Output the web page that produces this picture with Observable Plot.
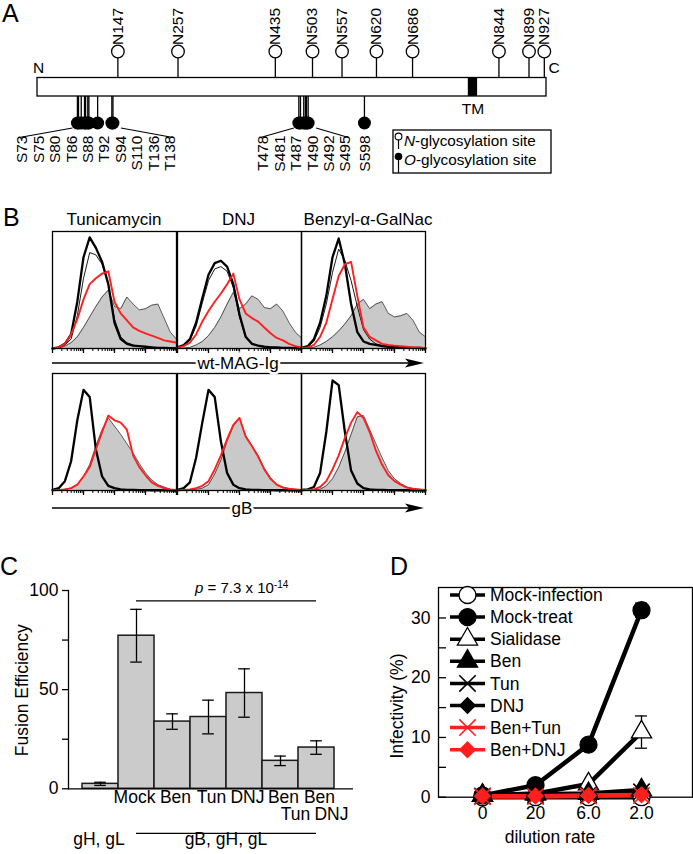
<!DOCTYPE html>
<html>
<head>
<meta charset="utf-8">
<script src="https://cdn.jsdelivr.net/npm/d3@7"></script>
<script src="https://cdn.jsdelivr.net/npm/@observablehq/plot@0.6"></script>
<style>
html,body{margin:0;padding:0;background:#fff;}
#fig{position:relative;width:693px;height:854px;overflow:hidden;background:#fff;}
</style>
</head>
<body>
<div id="fig"></div>
<script>
// ================= DATA =================
// Panel A : MAG-binding glycoprotein B, residue positions
const proteinLength = 931;
const tmSpan = [788, 805];
const nGlycoSites = [147, 257, 435, 503, 557, 620, 686, 844, 899, 927];
const oGlycoCluster1 = ["S73","S75","S80","T86","S88","T92","S94","S110","T136","T138"];
const oGlycoCluster2 = ["T478","S481","T487","T490","S492","S495"];
const oGlycoSingle = ["S598"];

// Panel B : flow cytometry histograms (log10 fluorescence grid, % of panel height)
const bColumns = ["Tunicamycin", "DNJ", "Benzyl-\u03b1-GalNac"];
const bRowLabels = ["wt-MAG-Ig", "gB"];
const histLogX = [0,0.2,0.4,0.6,0.8,1.0,1.2,1.4,1.6,1.8,2.0,2.2,2.4,2.6,2.8,3.0,3.2,3.4,3.6,3.8,4.0];
const tunMagGray  = [0,0.5,2,5,10,18,27,36,44,50,36,34,44,38,33,34,37,38,26,14,8];
const tunMagThin  = [0,1,3,8,28,60,82,80,72,55,25,10,5,3,2,1.5,1,0.5,0.5,0.3,0];
const tunMagBlack = [0,1,4,12,40,78,95,86,74,55,22,8,4,2.5,2,1.5,1,0.5,0.5,0.3,0];
const tunMagRed   = [0,1,4,12,25,42,55,60,64,66,40,30,24,18,15,13,11,9,7,6,5];
const dnjMagGray  = [0,0.5,1,3,6,11,18,27,38,48,34,38,45,42,35,34,38,32,22,14,9];
const dnjMagThin  = [1,2.5,7,19,39,58,68,70,66,52,27,9,4,2.5,1.5,1,1,0.5,0.5,0.3,0];
const dnjMagBlack = [1,3,8,22,43,63,73,75,70,55,29,10,4,2.5,1.5,1,1,0.5,0.5,0.3,0];
const dnjMagRed   = [0.5,2,5,12,23,32,40,47,55,64,42,30,26,23,18,13,9,7,4,2,1];
const benMagGray  = [0,0.5,1,3,6,10,15,21,28,38,42,34,38,40,30,27,28,30,24,14,10];
const benMagThin  = [0.5,1.5,6,18,38,65,85,75,58,36,16,8,4,2.5,2,1.5,1,1,0.5,0.5,0];
const benMagBlack = [0.5,2,8,22,45,78,94,72,38,14,6,4,3,2,1.5,1.5,1,1,0.5,0.5,0];
const benMagRed   = [0.5,1,3,10,22,42,62,72,74,45,18,10,7,4,3,2.5,2,1.5,1,1,0.5];
const tunGbGray   = [0,0.5,1,2,5,12,22,38,52,62,55,48,40,32,23,15,9,5,3,1,0.5];
const tunGbBlack  = [0.5,2,8,25,60,86,80,35,12,4,2,1,0.5,0.5,0.3,0.3,0.2,0.2,0.1,0.1,0];
const tunGbRed    = [0,0.5,1,2,5,12,20,35,50,64,60,58,52,30,20,13,7,4,2,1,0.5];
const dnjGbGray   = [0,0.3,0.5,1,2,5,14,26,42,55,62,47,38,30,19,11,5,3,1.5,1,0.5];
const dnjGbBlack  = [0.5,2,7,28,58,86,80,42,15,5,2,1,0.5,0.5,0.3,0.3,0.2,0.2,0.1,0.1,0];
const dnjGbRed    = [0,0.5,1,2,4,8,18,30,44,56,62,46,38,29,18,10,5,2.5,1.5,1,0.5];
const benGbGray   = [0,0.3,0.5,1,4,10,20,33,48,63,64,52,40,28,17,10,6,3,1.5,1,0.5];
const benGbBlack  = [0.5,1,3,15,50,94,90,50,17,6,2,1,0.5,0.5,0.3,0.3,0.2,0.2,0.1,0.1,0];
const benGbRed    = [0,0.5,1,3,8,18,30,45,58,67,62,50,34,22,13,8,5,2.5,1.5,1,0.5];

// Panel C : fusion efficiency
const fusionCats    = ["gH, gL","Mock","Ben","Tun","DNJ","Ben+Tun","Ben+DNJ"];
const fusionLabels1 = ["","Mock","Ben","Tun","DNJ","Ben","Ben"];
const fusionLabels2 = ["","","","","","Tun","DNJ"];
const fusionMeans   = [2.5, 77.2, 33.9, 36.2, 48.3, 14.1, 20.8];
const fusionErrs    = [0.8, 13.3, 3.9, 8.5, 12.2, 2.4, 3.4];
const fusionYTicks  = [0, 25, 50, 75, 100];
const fusionYLabels = ["0", "", "50", "", "100"];
const fusionGroups  = ["gH, gL", "gB, gH, gL"];
const pValue = {mantissa: "7.3", exponent: "-14"};

// Panel D : infectivity
const dilutions = ["0", "20", "6.0", "2.0"];
const infSeries = ["Mock-infection","Mock-treat","Sialidase","Ben","Tun","DNJ","Ben+Tun","Ben+DNJ"];
const mockInfection = [0, 0, 0, 0];
const mockTreat     = [0.3, 2.0, 8.8, 31.3];
const sialidase     = [0.3, 0.6, 2.2, 10.9];
const benInf        = [0.3, 0.5, 0.6, 1.2];
const tunInf        = [0.2, 0.3, 0.4, 0.9];
const dnjInf        = [0.2, 0.3, 0.4, 0.8];
const benTunInf     = [0.1, 0.1, 0.2, 0.3];
const benDnjInf     = [0.2, 0.2, 0.3, 0.4];
const mockTreatErr  = [0, 0, 0, 1.2];
const sialidaseErr  = [0, 0, 0, 2.7];
const infYTicks = [0, 5, 10, 15, 20, 25, 30];
const infYLabels = [0, 10, 20, 30];

// ================= DRAWING =================
const FONT = '"Liberation Sans", Arial, Helvetica, sans-serif';
const RED = "#ff1f1f";
const fig = document.getElementById("fig");
function put(svg, left, top) {
  svg.style.position = "absolute";
  svg.style.left = left + "px";
  svg.style.top = top + "px";
  svg.style.maxWidth = "none";
  svg.style.overflow = "visible";
  fig.appendChild(svg);
  return svg;
}
const baseStyle = fs => ({fontFamily: FONT, fontSize: fs + "px", background: "transparent", color: "#000", overflow: "visible"});

// ---------- Panel A ----------
const pxPerRes = (546 - 37) / proteinLength;
const TRACK = {nText: 44.5, nCircle: 51, nStemTop: 57.5, barTop: 77.5, barBottom: 96, oCircle: 122.5,
               oLinkTop: 127.5, oText: 135, oLinkBottom: 137, tmText: 108.5, endText: 68};
const resOf = s => +s.slice(1);
const LABEL_STEP = 16.4 / pxPerRes;
const oSites = [], oLinks = [];
for (const g of [oGlycoCluster1, oGlycoCluster2, oGlycoSingle]) {
  const first = resOf(g[0]), last = resOf(g[g.length - 1]);
  const center = (first + last) / 2 + 1 / pxPerRes;
  const half = (g.length - 1) / 2;
  g.forEach((lab, i) => oSites.push({label: lab, residue: resOf(lab), labelPos: center + (i - half) * LABEL_STEP}));
  if (g.length > 1) {
    oLinks.push({x1: center - half * LABEL_STEP - 3 / pxPerRes, y1: TRACK.oLinkBottom, x2: first - 5 / pxPerRes, y2: TRACK.oLinkTop});
    oLinks.push({x1: last + 8 / pxPerRes, y1: TRACK.oLinkTop, x2: center + half * LABEL_STEP + 3 / pxPerRes, y2: TRACK.oLinkBottom});
  }
}
const aSvg = Plot.plot({
  width: 693, height: 180, marginTop: 0, marginBottom: 0, marginLeft: 37, marginRight: 147,
  x: {domain: [0, proteinLength], axis: null},
  y: {type: "identity", axis: null},
  style: baseStyle(15.5),
  marks: [
    Plot.ruleX(nGlycoSites, {x: d => d, y1: TRACK.nStemTop, y2: TRACK.barTop, strokeWidth: 1.3}),
    Plot.dot(nGlycoSites, {x: d => d, y: TRACK.nCircle, r: 6.3, fill: "white", stroke: "black", strokeWidth: 1.3}),
    Plot.text(nGlycoSites, {x: d => d, y: TRACK.nText, text: d => "N" + d, rotate: -90, textAnchor: "start"}),
    Plot.ruleX(oSites, {x: "residue", y1: TRACK.barBottom, y2: TRACK.oCircle, strokeWidth: 1.3}),
    Plot.rect([{a: 0, b: proteinLength}], {x1: "a", x2: "b", y1: TRACK.barTop, y2: TRACK.barBottom, fill: "white", stroke: "black", strokeWidth: 1.3}),
    Plot.rect([tmSpan], {x1: d => d[0], x2: d => d[1], y1: TRACK.barTop, y2: TRACK.barBottom, fill: "black"}),
    Plot.dot(oSites, {x: "residue", y: TRACK.oCircle, r: 6.5, fill: "black"}),
    Plot.link(oLinks, {x1: "x1", y1: "y1", x2: "x2", y2: "y2", strokeWidth: 1.1}),
    Plot.text(oSites, {x: "labelPos", y: TRACK.oText, text: "label", rotate: -90, textAnchor: "end"}),
    Plot.text(["N"], {x: 0, y: TRACK.endText, text: d => d, textAnchor: "middle", dx: 1}),
    Plot.text(["C"], {x: proteinLength, y: TRACK.endText, text: d => d, textAnchor: "start", dx: 2}),
    Plot.text(["TM"], {x: (tmSpan[0] + tmSpan[1]) / 2, y: TRACK.tmText, text: d => d})
  ]
});
put(aSvg, 0, 0);

// ---------- Panel B ----------
const histMinorTicks = [1,2,3,4,5,6,7,8,9,10,20,30,40,50,60,70,80,90,100,200,300,400,500,600,700,800,900,1000,2000,3000,4000,5000,6000,7000,8000,9000,10000];
const histDecadeTicks = [1, 10, 100, 1000, 10000];
function histPlot(c, left, top) {
  const rows = arr => arr.map((v, i) => ({x: 10 ** histLogX[i], y: v}));
  const marks = [
    Plot.areaY(rows(c.gray), {x: "x", y: "y", fill: "#c9c9c9"}),
    Plot.lineY(rows(c.gray), {x: "x", y: "y", stroke: "#333", strokeWidth: 0.8})
  ];
  if (c.thin) marks.push(Plot.lineY(rows(c.thin), {x: "x", y: "y", stroke: "#000", strokeWidth: 0.9}));
  marks.push(
    Plot.lineY(rows(c.black), {x: "x", y: "y", stroke: "#000", strokeWidth: 2.3}),
    Plot.lineY(rows(c.red), {x: "x", y: "y", stroke: RED, strokeWidth: 1.9}),
    Plot.frame({stroke: "#000", strokeWidth: 1.3}),
    Plot.axisX({ticks: histMinorTicks, tickSize: 3, tickFormat: () => "", label: null, strokeWidth: 1}),
    Plot.axisX({ticks: histDecadeTicks, tickSize: 5, tickFormat: () => "", label: null, strokeWidth: 1.3})
  );
  const svg = Plot.plot({
    width: 126, height: 126, marginLeft: 1, marginRight: 1, marginTop: 1, marginBottom: 8,
    x: {type: "log", domain: [1, 1e4]}, y: {domain: [0, 100], axis: null},
    style: baseStyle(10), marks
  });
  return put(svg, left, top);
}
const bLefts = [51, 175.5, 300];
histPlot({gray: tunMagGray, thin: tunMagThin, black: tunMagBlack, red: tunMagRed}, bLefts[0], 230);
histPlot({gray: dnjMagGray, thin: dnjMagThin, black: dnjMagBlack, red: dnjMagRed}, bLefts[1], 230);
histPlot({gray: benMagGray, thin: benMagThin, black: benMagBlack, red: benMagRed}, bLefts[2], 230);
histPlot({gray: tunGbGray, black: tunGbBlack, red: tunGbRed}, bLefts[0], 372);
histPlot({gray: dnjGbGray, black: dnjGbBlack, red: dnjGbRed}, bLefts[1], 372);
histPlot({gray: benGbGray, black: benGbBlack, red: benGbRed}, bLefts[2], 372);

// ---------- Panel C ----------
const cData = fusionCats.map((c, i) => ({cat: c, mean: fusionMeans[i], err: fusionErrs[i], l1: fusionLabels1[i], l2: fusionLabels2[i]}));
const cSvg = Plot.plot({
  width: 360, height: 299, marginLeft: 68, marginRight: 7, marginTop: 35, marginBottom: 65.7,
  x: {domain: fusionCats, range: [80, 335.5], padding: 0, axis: null},
  y: {domain: [0, 100]},
  style: baseStyle(17.5),
  marks: [
    Plot.barY(cData, {x: "cat", y: "mean", fill: "#cbcbcb", stroke: "#1a1a1a", strokeWidth: 1.5}),
    Plot.ruleX(cData, {x: "cat", y1: d => d.mean - d.err, y2: d => d.mean + d.err, strokeWidth: 1.3}),
    Plot.tickY(cData, {x: "cat", y: d => d.mean + d.err, inset: 12.2, strokeWidth: 1.3}),
    Plot.tickY(cData, {x: "cat", y: d => d.mean - d.err, inset: 12.2, strokeWidth: 1.3}),
    Plot.frame({anchor: "left", strokeWidth: 1.3}),
    Plot.ruleY([0], {strokeWidth: 1.3}),
    Plot.axisY({ticks: fusionYTicks, tickSize: 6, tickPadding: 4, tickFormat: d => fusionYLabels[fusionYTicks.indexOf(d)], label: null, strokeWidth: 1.3}),
    Plot.text(cData.filter(d => d.l1 === "Mock"), {x: "cat", text: "l1", frameAnchor: "bottom", dy: 14, dx: -2}),
    Plot.text(cData.filter(d => d.l1 !== "Mock"), {x: "cat", text: "l1", frameAnchor: "bottom", dy: 14, dx: 3}),
    Plot.text(cData, {x: "cat", text: "l2", frameAnchor: "bottom", dy: 31, dx: 15})
  ]
});
put(cSvg, 0, 555);
{
  const sx = cSvg.scale("x"), sy = cSvg.scale("y");
  const xc = c => sx.apply(c) + sx.bandwidth / 2;
  const g = d3.select(cSvg).append("g").attr("font-family", FONT).attr("fill", "#000");
  const bottom = sy.apply(0);
  const xa = xc(fusionCats[1]), xb = xc(fusionCats[fusionCats.length - 1]);
  // p-value bar
  g.append("line").attr("x1", xa).attr("x2", xb).attr("y1", sy.apply(94.5)).attr("y2", sy.apply(94.5)).attr("stroke", "#000").attr("stroke-width", 1.3);
  const pt = g.append("text").attr("x", (xa + xb) / 2 - 31).attr("y", sy.apply(98.3)).attr("font-size", 15).attr("text-anchor", "start");
  pt.append("tspan").attr("font-style", "italic").text("p");
  pt.append("tspan").text(" = " + pValue.mantissa + " x 10");
  pt.append("tspan").attr("dy", -5).attr("font-size", 10).text(pValue.exponent);
  // group labels
  g.append("line").attr("x1", xa).attr("x2", xb).attr("y1", bottom + 45).attr("y2", bottom + 45).attr("stroke", "#000").attr("stroke-width", 1.2);
  g.append("text").attr("x", xc(fusionCats[0]) - 1).attr("y", bottom + 56.5).attr("text-anchor", "middle").attr("font-size", 17.5).text(fusionGroups[0]);
  g.append("text").attr("x", (sx.apply(fusionCats[1]) + sx.apply(fusionCats[6]) + sx.bandwidth) / 2).attr("y", bottom + 56.5).attr("text-anchor", "middle").attr("font-size", 17.5).text(fusionGroups[1]);
  // y title
  g.append("text").attr("transform", `translate(22,${(sy.apply(0) + sy.apply(100)) / 2 + 1}) rotate(-90)`).attr("text-anchor", "middle").attr("dy", "0.35em").attr("font-size", 17.5).text("Fusion Efficiency");
}

// ---------- Panel D ----------
const infValues = [mockInfection, mockTreat, sialidase, benInf, tunInf, dnjInf, benTunInf, benDnjInf];
const dStyles = {
  "Mock-infection": {symbol: "circle",   fill: "#fff", stroke: "#000", r: 8.5, line: "#000"},
  "Mock-treat":     {symbol: "circle",   fill: "#000", stroke: "#000", r: 8.5, line: "#000"},
  "Sialidase":      {symbol: "triangle", fill: "#fff", stroke: "#000", r: 7.5, line: "#000"},
  "Ben":            {symbol: "triangle", fill: "#000", stroke: "#000", r: 7.5, line: "#000"},
  "Tun":            {symbol: "times",    fill: "none", stroke: "#000", r: 7.5, line: "#000"},
  "DNJ":            {symbol: "diamond2", fill: "#000", stroke: "#000", r: 7,   line: "#000"},
  "Ben+Tun":        {symbol: "times",    fill: "none", stroke: RED,    r: 7.5, line: RED},
  "Ben+DNJ":        {symbol: "diamond2", fill: RED,    stroke: RED,    r: 7,   line: RED}
};
const dRows = infSeries.flatMap((s, si) => dilutions.map((d, i) => ({series: s, dil: d, v: infValues[si][i]})));
const errSource = {"Mock-treat": mockTreatErr, "Sialidase": sialidaseErr};
const dErr = Object.entries(errSource).flatMap(([s, e]) => dilutions.map((d, i) => ({series: s, dil: d, v: infValues[infSeries.indexOf(s)][i], e: e[i]}))).filter(r => r.e > 0);
const dMarks = [
  Plot.frame({strokeWidth: 1.3}),
  Plot.ruleY(infYTicks, {y: d => d, insetRight: 246, strokeWidth: 1.3}),
  Plot.axisY({ticks: infYLabels, tickSize: 0, tickPadding: 8, label: null}),
  Plot.axisX({tickSize: 0, tickPadding: 9, label: null}),
  Plot.line(dRows.filter(r => dStyles[r.series].line === "#000"), {x: "dil", y: "v", z: "series", stroke: "#000", strokeWidth: 4.5, strokeLinejoin: "round"}),
  Plot.line(dRows.filter(r => dStyles[r.series].line === RED), {x: "dil", y: "v", z: "series", stroke: RED, strokeWidth: 4.2, strokeLinejoin: "round"}),
  Plot.ruleX(dErr, {x: "dil", y1: d => d.v - d.e, y2: d => d.v + d.e, strokeWidth: 1.3}),
  Plot.ruleY(dErr, {y: d => d.v + d.e, x1: "dil", x2: "dil", insetLeft: -6, insetRight: -6, strokeWidth: 1.3}),
  Plot.ruleY(dErr, {y: d => d.v - d.e, x1: "dil", x2: "dil", insetLeft: -6, insetRight: -6, strokeWidth: 1.3})
];
for (const s of infSeries) {
  const st = dStyles[s];
  dMarks.push(Plot.dot(dRows.filter(r => r.series === s), {x: "dil", y: "v", symbol: st.symbol, r: st.r, fill: st.fill, stroke: st.stroke, strokeWidth: st.symbol === "times" ? 1.6 : 1.3}));
}
const dSvg = Plot.plot({
  width: 343, height: 299, marginLeft: 88, marginRight: 1, marginTop: 32, marginBottom: 57.3,
  x: {type: "point", domain: dilutions, range: [104, 319]},
  y: {domain: [0, 35.1]},
  style: baseStyle(17.5),
  marks: dMarks
});
put(dSvg, 350, 555);
{
  const g = d3.select(dSvg).append("g").attr("font-family", FONT);
  const symMap = {circle: d3.symbolCircle, triangle: d3.symbolTriangle, times: d3.symbolTimes, diamond2: d3.symbolDiamond2};
  infSeries.forEach((s, i) => {
    const st = dStyles[s];
    const y = 40 + i * 22.1;
    g.append("line").attr("x1", 100).attr("x2", 135).attr("y1", y).attr("y2", y).attr("stroke", st.line).attr("stroke-width", 3.5);
    g.append("path").attr("transform", `translate(117.5,${y})`).attr("d", d3.symbol(symMap[st.symbol], Math.PI * st.r * st.r)())
      .attr("fill", st.fill).attr("stroke", st.stroke).attr("stroke-width", st.symbol === "times" ? 1.6 : 1.3);
    g.append("text").attr("x", 140).attr("y", y).attr("dy", "0.35em").attr("text-anchor", "start").attr("font-size", 17.5).text(s);
  });
  g.append("text").attr("transform", "translate(47,151) rotate(-90)").attr("text-anchor", "middle").attr("dy", "0.35em").attr("font-size", 17.5).text("Infectivity (%)");
  g.append("text").attr("x", 200).attr("y", 288).attr("text-anchor", "middle").attr("font-size", 17.5).text("dilution rate");
}

// ---------- Overlay: panel letters, headers, arrows, legend of A ----------
const ov = d3.create("svg").attr("width", 693).attr("height", 854).attr("font-family", FONT).style("pointer-events", "none");
[["A", 2, 22], ["B", 3, 226], ["C", 0, 575], ["D", 390, 575]].forEach(([t, x, y]) =>
  ov.append("text").attr("x", x).attr("y", y).attr("font-size", 25).text(t));
const colCenters = [114, 238.5, 368];
bColumns.forEach((t, i) => ov.append("text").attr("x", colCenters[i]).attr("y", 225).attr("text-anchor", "middle").attr("font-size", 17).text(t));
[[363, 238, bRowLabels[0]], [508, 242, bRowLabels[1]]].forEach(([y, cx, t]) => {
  ov.append("line").attr("x1", 52).attr("x2", 410).attr("y1", y).attr("y2", y).attr("stroke", "#000").attr("stroke-width", 1.3);
  ov.append("path").attr("d", `M405,${y - 4.5} L424,${y} L405,${y + 4.5} L409,${y} Z`).attr("fill", "#000");
  ov.append("text").attr("x", cx).attr("y", y).attr("dy", "0.35em").attr("text-anchor", "middle").attr("font-size", 17)
    .attr("stroke", "#fff").attr("stroke-width", 5).attr("paint-order", "stroke").attr("fill", "#000").text(t);
});
// legend of panel A
ov.append("rect").attr("x", 393).attr("y", 130).attr("width", 158).attr("height", 43).attr("fill", "#fff").attr("stroke", "#000").attr("stroke-width", 1.3);
ov.append("line").attr("x1", 398.5).attr("x2", 398.5).attr("y1", 140).attr("y2", 149).attr("stroke", "#000").attr("stroke-width", 1.2);
ov.append("circle").attr("cx", 398.5).attr("cy", 136.5).attr("r", 3.4).attr("fill", "#fff").attr("stroke", "#000").attr("stroke-width", 1.1);
ov.append("line").attr("x1", 398.5).attr("x2", 398.5).attr("y1", 157).attr("y2", 173).attr("stroke", "#000").attr("stroke-width", 1.2);
ov.append("circle").attr("cx", 398.5).attr("cy", 156.5).attr("r", 3.8).attr("fill", "#000");
[["N", "-glycosylation site", 146], ["O", "-glycosylation site", 165]].forEach(([a, b, y]) => {
  const t = ov.append("text").attr("x", 404).attr("y", y).attr("font-size", 15.3);
  t.append("tspan").attr("font-style", "italic").text(a);
  t.append("tspan").text(b);
});
const ovNode = ov.node();
ovNode.style.position = "absolute"; ovNode.style.left = "0px"; ovNode.style.top = "0px";
fig.appendChild(ovNode);
</script>
</body>
</html>
